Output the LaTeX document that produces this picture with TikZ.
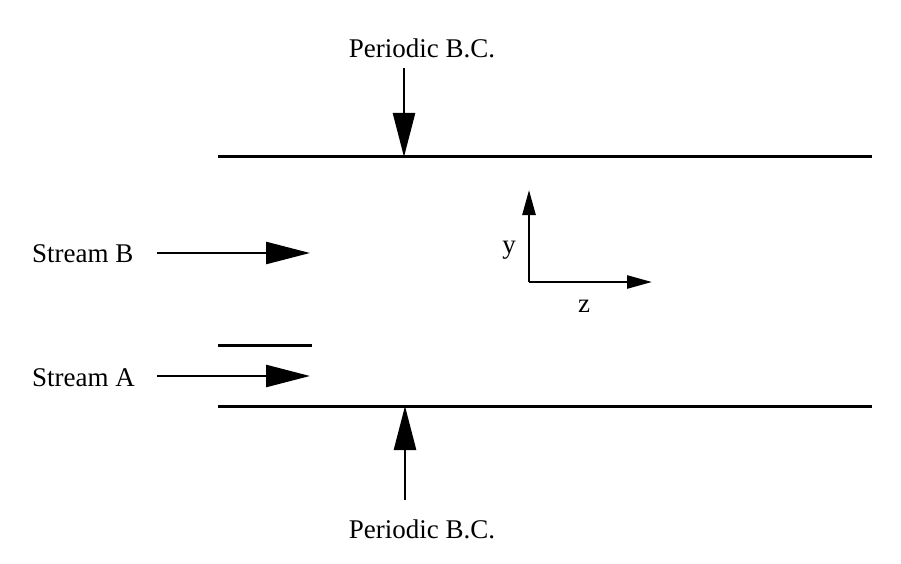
\documentclass[tikz,border=0pt]{standalone}
\usepackage{fontspec}
\setmainfont{Liberation Serif}
\usetikzlibrary{arrows.meta,positioning}

\begin{document}
\begin{tikzpicture}[
    x=1pt, y=-1pt,
    wall/.style={line width=3pt},
    lbl/.style={inner sep=0pt, font=\fontsize{27}{32}\selectfont},
    big/.style={-{Triangle[length=44pt, width=22pt]}, line width=2.6pt},
    ax/.style={-{Triangle[length=25pt, width=13pt]}, line width=2.6pt}
]
    \useasboundingbox (0,0) rectangle (901,564);

    % channel walls and splitter plate
    \coordinate (wt1) at (218,157);
    \coordinate (wt2) at (872,157);
    \coordinate (wb1) at (218,406);
    \coordinate (wb2) at (872,406);
    \coordinate (sp1) at (218,345);
    \coordinate (sp2) at (312,345);
    \draw [wall] (wt1) -- (wt2);
    \draw [wall] (wb1) -- (wb2);
    \draw [wall] (sp1) -- (sp2);

    % periodic boundaries
    \node [lbl, anchor=base] (pbtop) at (422,58) {Periodic B.C.};
    \coordinate (pt1) at (404,68);
    \coordinate (pt2) at (404,157);
    \draw [big] (pt1) -- (pt2);

    \node [lbl, anchor=base] (pbbot) at (422,538) {Periodic B.C.};
    \coordinate (pb1) at (405,500);
    \coordinate (pb2) at (405,406);
    \draw [big] (pb1) -- (pb2);

    % inlet streams
    \node [lbl, anchor=base west] (sB) at (32,262) {Stream B};
    \coordinate (sB1) at (157,253);
    \coordinate (sB2) at (310,253);
    \draw [big] (sB1) -- (sB2);

    \node [lbl, anchor=base west] (sA) at (32,386) {Stream A};
    \coordinate (sA1) at (157,376);
    \coordinate (sA2) at (310,376);
    \draw [big] (sA1) -- (sA2);

    % axes
    \coordinate (o) at (529,282);
    \coordinate (ytip) at (529,190);
    \coordinate (ztip) at (652,282);
    \draw [ax] (o) -- (ytip);
    \draw [ax] (o) -- (ztip);
    \node [lbl, anchor=base] (ylab) at (509,253) {y};
    \node [lbl, anchor=base] (zlab) at (584,312) {z};
\end{tikzpicture}
\end{document}
